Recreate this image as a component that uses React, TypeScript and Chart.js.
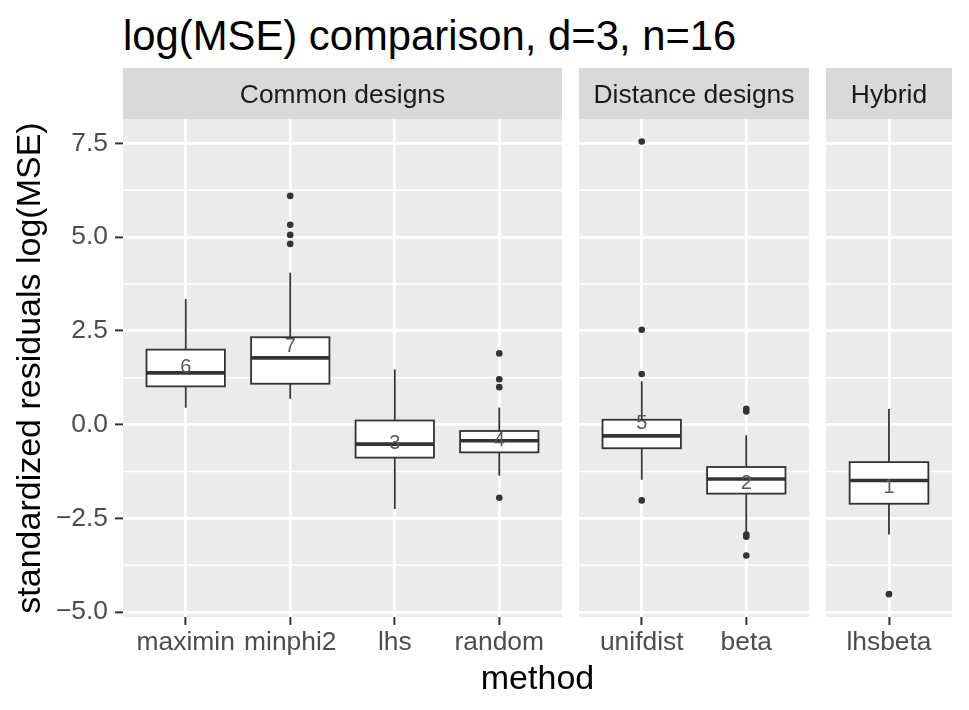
import React, { useEffect, useRef } from 'react';
import { Chart, registerables } from 'chart.js';

Chart.register(...registerables);

const FONT = '"Liberation Sans", Arial, Helvetica, sans-serif';

// ---- data ----
const panelNames = ['Common designs', 'Distance designs', 'Hybrid'];
const methods = ['maximin', 'minphi2', 'lhs', 'random', 'unifdist', 'beta', 'lhsbeta'];
const methodPanel = [0, 0, 0, 0, 1, 1, 2];
const whiskerLow = [0.45, 0.69, -2.25, -1.36, -1.47, -2.87, -2.93];
const q1 = [1.02, 1.09, -0.88, -0.74, -0.63, -1.84, -2.11];
const median = [1.38, 1.78, -0.52, -0.43, -0.3, -1.45, -1.49];
const q3 = [2.0, 2.33, 0.11, -0.17, 0.13, -1.13, -1.0];
const whiskerHigh = [3.35, 4.05, 1.47, 0.46, 1.16, -0.28, 0.42];
const meanValue = [1.57, 2.14, -0.47, -0.38, 0.07, -1.52, -1.63];
const rankLabel = ['6', '7', '3', '4', '5', '2', '1'];
const outliers: number[][] = [
  [],
  [6.1, 5.33, 5.06, 4.82],
  [],
  [1.9, 1.21, 1.0, -1.95],
  [7.55, 2.53, 1.35, -2.02],
  [0.42, 0.35, -2.93, -2.99, -3.49],
  [-4.52],
];
const yTickValues = [-5, -2.5, 0, 2.5, 5, 7.5];
const yTickLabels = ['\u22125.0', '\u22122.5', '0.0', '2.5', '5.0', '7.5'];
const yMinorValues = [-3.75, -1.25, 1.25, 3.75, 6.25];

// ---- layout (styles only) ----
const panelLayout = [
  { left: 0, width: 562, yAxisWidth: 123 },
  { left: 579, width: 230, yAxisWidth: 0 },
  { left: 826, width: 126, yAxisWidth: 0 },
];
const CANVAS_TOP = 68;
const CANVAS_H = 594;
const STRIP_H = 51;

function makeFacetPlugin(label: string, idx: number[]) {
  return {
    id: 'facet',
    beforeDraw(chart: any) {
      const { ctx, chartArea: a } = chart;
      ctx.save();
      ctx.fillStyle = '#EBEBEB';
      ctx.fillRect(a.left, a.top, a.right - a.left, a.bottom - a.top);
      ctx.fillStyle = '#D9D9D9';
      ctx.fillRect(a.left, a.top - STRIP_H, a.right - a.left, STRIP_H);
      ctx.fillStyle = '#1A1A1A';
      ctx.font = `26.4px ${FONT}`;
      ctx.textAlign = 'center';
      ctx.textBaseline = 'alphabetic';
      ctx.fillText(label, (a.left + a.right) / 2, a.top - STRIP_H / 2 + 0.358 * 26.4);
      ctx.restore();
    },
    beforeDatasetsDraw(chart: any) {
      const { ctx, chartArea: a, scales } = chart;
      const x = scales.x;
      const y = scales.y;
      ctx.save();
      ctx.strokeStyle = '#FFFFFF';
      ctx.lineWidth = 1.4;
      yMinorValues.forEach((v) => {
        const py = y.getPixelForValue(v);
        ctx.beginPath();
        ctx.moveTo(a.left, py);
        ctx.lineTo(a.right, py);
        ctx.stroke();
      });
      idx.forEach((m, j) => {
        const cx = x.getPixelForValue(j);
        const l = x.getPixelForValue(j - 0.375);
        const r = x.getPixelForValue(j + 0.375);
        const yLo = y.getPixelForValue(whiskerLow[m]);
        const yQ1 = y.getPixelForValue(q1[m]);
        const yMed = y.getPixelForValue(median[m]);
        const yQ3 = y.getPixelForValue(q3[m]);
        const yHi = y.getPixelForValue(whiskerHigh[m]);
        ctx.strokeStyle = '#333333';
        ctx.lineWidth = 1.8;
        ctx.beginPath();
        ctx.moveTo(cx, yHi);
        ctx.lineTo(cx, yQ3);
        ctx.moveTo(cx, yQ1);
        ctx.lineTo(cx, yLo);
        ctx.stroke();
        ctx.fillStyle = '#FFFFFF';
        ctx.fillRect(l, yQ3, r - l, yQ1 - yQ3);
        ctx.strokeRect(l, yQ3, r - l, yQ1 - yQ3);
        ctx.lineWidth = 3.6;
        ctx.beginPath();
        ctx.moveTo(l, yMed);
        ctx.lineTo(r, yMed);
        ctx.stroke();
      });
      ctx.restore();
    },
    afterDatasetsDraw(chart: any) {
      const { ctx, scales } = chart;
      const x = scales.x;
      const y = scales.y;
      ctx.save();
      ctx.fillStyle = '#595959';
      ctx.font = `20px ${FONT}`;
      ctx.textAlign = 'center';
      ctx.textBaseline = 'alphabetic';
      idx.forEach((m, j) => {
        ctx.fillText(rankLabel[m], x.getPixelForValue(j), y.getPixelForValue(meanValue[m]) + 0.358 * 20);
      });
      ctx.restore();
    },
  };
}

function Panel({ p }: { p: number }) {
  const ref = useRef<HTMLCanvasElement>(null);
  const lay = panelLayout[p];
  useEffect(() => {
    if (!ref.current) return;
    const idx = methods.map((_, i) => i).filter((i) => methodPanel[i] === p);
    const cats = idx.map((i) => methods[i]);
    const points = idx.flatMap((m, j) => outliers[m].map((v) => ({ x: j, y: v })));
    const first = p === 0;
    const chart = new Chart(ref.current, {
      type: 'scatter',
      data: {
        datasets: [
          {
            data: points,
            pointRadius: 3.3,
            pointHoverRadius: 3.3,
            pointBackgroundColor: '#333333',
            pointBorderWidth: 0,
            pointBorderColor: '#333333',
          },
        ],
      },
      plugins: [makeFacetPlugin(panelNames[p], idx)],
      options: {
        animation: false,
        responsive: false,
        events: [],
        layout: { autoPadding: false, padding: { top: STRIP_H, left: 0, right: 0, bottom: 0 } },
        plugins: {
          legend: { display: false },
          tooltip: { enabled: false },
          title: { display: false },
        },
        scales: {
          x: {
            type: 'linear',
            min: -0.6,
            max: cats.length - 0.4,
            border: { display: false },
            grid: { color: '#FFFFFF', lineWidth: 2.8, tickLength: 8, tickColor: '#333333', tickWidth: 2 },
            ticks: {
              autoSkip: false,
              maxRotation: 0,
              minRotation: 0,
              padding: 2,
              color: '#4D4D4D',
              font: { family: FONT, size: 26.4 },
              callback: (_v: any, i: number) => cats[i],
            },
            afterBuildTicks: (s: any) => {
              s.ticks = cats.map((_, j) => ({ value: j }));
            },
            afterFit: (s: any) => {
              s.height = 45;
              s.paddingLeft = 0;
              s.paddingRight = 0;
            },
          },
          y: {
            type: 'linear',
            min: -5.13,
            max: 8.15,
            border: { display: false },
            grid: {
              color: '#FFFFFF',
              lineWidth: 2.8,
              drawTicks: first,
              tickLength: 8,
              tickColor: '#333333',
              tickWidth: 2,
            },
            ticks: {
              display: first,
              padding: 7,
              color: '#4D4D4D',
              font: { family: FONT, size: 26.4 },
              callback: (_v: any, i: number) => yTickLabels[i],
            },
            afterBuildTicks: (s: any) => {
              s.ticks = yTickValues.map((v) => ({ value: v }));
            },
            afterFit: (s: any) => {
              s.width = lay.yAxisWidth;
              s.paddingTop = 0;
              s.paddingBottom = 0;
            },
            title: {
              display: first,
              text: 'standardized residuals log(MSE)',
              color: '#000000',
              font: { family: FONT, size: 34 },
              padding: { top: 10.5, bottom: 0 },
            },
          },
        },
      } as any,
    });
    return () => chart.destroy();
  }, [p]);
  return (
    <canvas
      ref={ref}
      width={lay.width}
      height={CANVAS_H}
      style={{ position: 'absolute', left: lay.left, top: CANVAS_TOP, width: lay.width, height: CANVAS_H }}
    />
  );
}

export default function App() {
  return (
    <div
      style={{
        position: 'fixed',
        left: 0,
        top: 0,
        width: 969,
        height: 710,
        background: '#FFFFFF',
        overflow: 'hidden',
        fontFamily: FONT,
      }}
    >
      <div
        style={{
          position: 'absolute',
          left: 123,
          top: 14.5,
          fontSize: 41.8,
          lineHeight: '41.8px',
          color: '#000000',
          whiteSpace: 'nowrap',
        }}
      >
        log(MSE) comparison, d=3, n=16
      </div>
      {panelNames.map((_, p) => (
        <Panel key={p} p={p} />
      ))}
      <div
        style={{
          position: 'absolute',
          left: 123,
          width: 829,
          top: 659.5,
          fontSize: 34,
          lineHeight: '34px',
          color: '#000000',
          textAlign: 'center',
          whiteSpace: 'nowrap',
        }}
      >
        method
      </div>
    </div>
  );
}
